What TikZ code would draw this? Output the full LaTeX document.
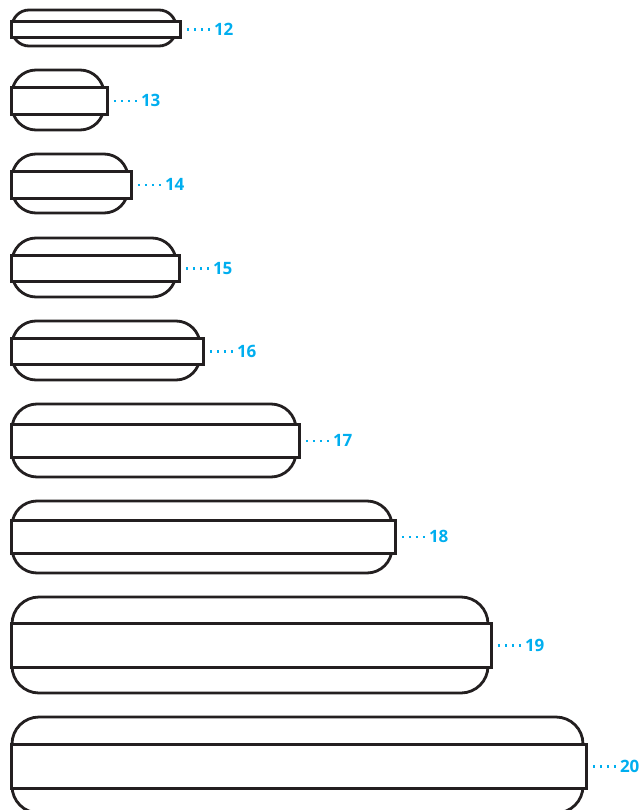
\documentclass[tikz,border=0pt]{standalone}
\usepackage{fontspec}
\setsansfont{Open Sans}
\usetikzlibrary{positioning}
\definecolor{tagblue}{RGB}{0,174,239}
\definecolor{ink}{RGB}{35,31,32}
\tikzset{
  shell/.style ={draw=ink,line width=2.8pt,fill=white},
  band/.style  ={draw=ink,line width=2.8pt,fill=white,inner sep=0pt,anchor=north west},
  lead/.style  ={tagblue,line width=2.6pt,dash pattern=on 2.5pt off 4.5pt},
  num/.style   ={font=\sffamily\bfseries\fontsize{17}{17}\selectfont,text=tagblue,inner sep=0pt,anchor=west},
}
\begin{document}
\begin{tikzpicture}[x=1pt,y=-1pt]
  \useasboundingbox (0,0) rectangle (641,810);
  \clip (0,0) rectangle (641,810);
  % size / shell right, top, bottom / band right, top, bottom / corner
  \foreach \n/\xr/\yt/\yb/\br/\bt/\bb/\rc in {
      12/176/10/46/179/20/36/17,
      13/104/70/130/106/86/113/24,
      14/128/154/213/130/170/197/24,
      15/176/238/297/178/254/280/24,
      16/200/321/380/202/337/363/24,
      17/296/404/477/298/423/456/25,
      18/392/501/573/394/519/552/25,
      19/488/597/693/490/622/666/27,
      20/583/717/813/585/743/787/27}{
    \draw[shell,rounded corners=\rc pt] (12,\yt) rectangle (\xr,\yb);
    \node[band,minimum width={\br-10},minimum height={\bb-\bt}] (b\n) at (10,\bt) {};
    \node[num,right=32pt of b\n] (t\n) {\n};
    \draw[lead] ([xshift=5pt]b\n.east) -- ([xshift=-3.5pt]t\n.west);
  }
\end{tikzpicture}
\end{document}
